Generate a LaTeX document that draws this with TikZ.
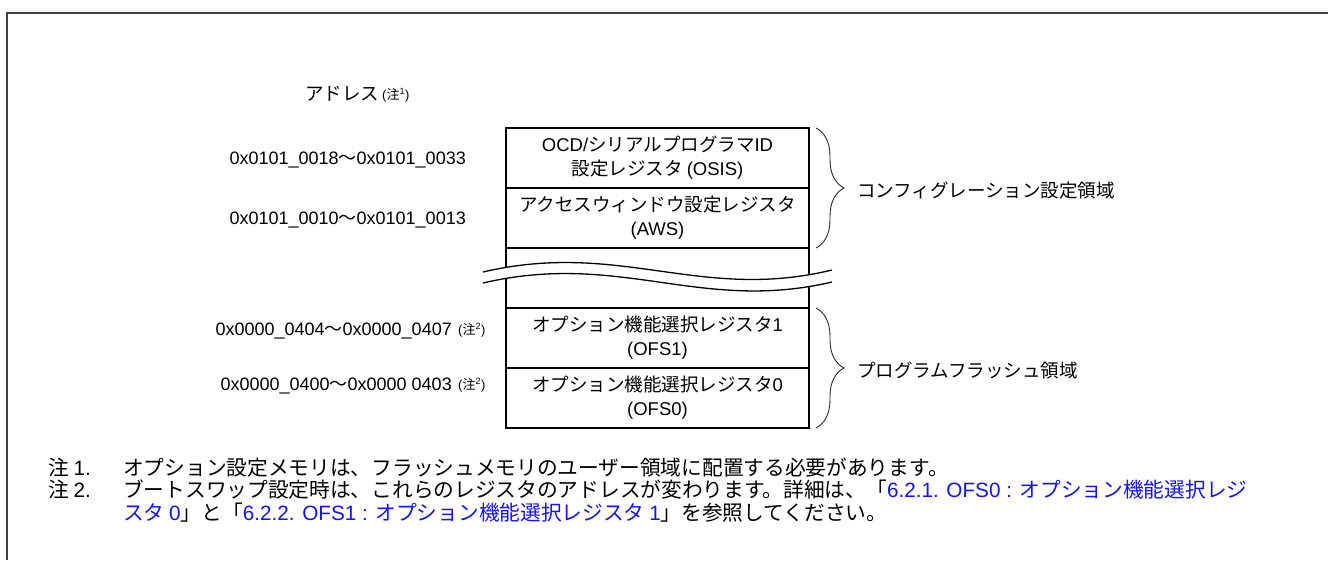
\documentclass[tikz,border=0pt]{standalone}
\usepackage{fontspec}
\setmainfont{Noto Sans CJK JP}
\newfontfamily\lat{Liberation Sans}
\usetikzlibrary{decorations.pathreplacing}
\definecolor{linkblue}{RGB}{20,20,235}
\begin{document}
\begin{tikzpicture}[x=1pt,y=-1pt,
  box/.style={draw=black, line width=1.6pt, minimum width=303pt, minimum height=60pt, inner sep=0pt, outer sep=0pt, align=center, font=\fontsize{18.5}{24}\selectfont},
  lbl/.style={inner sep=0pt, font=\fontsize{18.5}{22}\selectfont},
  adr/.style={inner sep=0pt, font=\fontsize{18}{22}\selectfont},
  supl/.style={inner sep=0pt, font=\fontsize{13}{15}\selectfont},
  note/.style={inner sep=0pt, font=\fontsize{20.7}{24}\selectfont},
  brc/.style={decorate, decoration={brace, amplitude=28pt}, line width=0.9pt, draw=black!85},
  wave/.style={line width=1.3pt}]
\useasboundingbox (0,0) rectangle (1328,560);
\draw[line width=1.5pt, black!75] (7,560) -- (7,13) -- (1328,13);

% header
\node[lbl, anchor=base west] (hdr) at (305,100) {アドレス};
\node[supl, anchor=base west] (hdrn) at (382,99) {{\lat (}注\textsuperscript{\lat 1}{\lat )}};

% memory rows
\node[box] (osis) at (657.5,158) {{\lat OCD/}シリアルプログラマ{\lat ID}\\設定レジスタ {\lat (OSIS)}};
\node[box] (aws) at (657.5,218) {アクセスウィンドウ設定レジスタ\\{\lat (AWS)}};
\node[box] (gap) at (657.5,278) {};
\node[box] (ofs1) at (657.5,338) {オプション機能選択レジスタ{\lat 1}\\{\lat (OFS1)}};
\node[box] (ofs0) at (657.5,398) {オプション機能選択レジスタ{\lat 0}\\{\lat (OFS0)}};

% break mark
\fill[white] (483,272) .. controls (620,240) and (700,302) .. (832,270) -- (832,282) .. controls (700,313) and (620,251) .. (483,283) -- cycle;
\draw[wave] (483,272) .. controls (620,240) and (700,302) .. (832,270);
\draw[wave] (483,283) .. controls (620,251) and (700,313) .. (832,282);

% addresses
\node[adr, anchor=base east] (a1) at (466,164) {{\lat 0x0101\_0018}～{\lat 0x0101\_0033}};
\node[adr, anchor=base east] (a2) at (466,224) {{\lat 0x0101\_0010}～{\lat 0x0101\_0013}};
\node[adr, anchor=base east] (a3) at (452,335) {{\lat 0x0000\_0404}～{\lat 0x0000\_0407}};
\node[supl, anchor=base west] (a3n) at (458,334) {{\lat (}注\textsuperscript{\lat 2}{\lat )}};
\node[adr, anchor=base east] (a4) at (452,390) {{\lat 0x0000\_0400}～{\lat 0x0000 0403}};
\node[supl, anchor=base west] (a4n) at (458,389) {{\lat (}注\textsuperscript{\lat 2}{\lat )}};

% braces
\draw[brc] ([xshift=7pt]osis.north east) -- ([xshift=7pt]aws.south east);
\draw[brc] ([xshift=7pt]ofs1.north east) -- ([xshift=7pt]ofs0.south east);
\node[lbl, anchor=base west] (cfg) at (857,197) {コンフィグレーション設定領域};
\node[lbl, anchor=base west] (pfl) at (857,377) {プログラムフラッシュ領域};

% notes
\node[note, anchor=base west] (n1l) at (48,475) {注 {\lat 1.}};
\node[note, anchor=base west] (n1) at (123,475) {オプション設定メモリは、フラッシュメモリのユーザー領域に配置する必要があります。};
\node[note, anchor=base west] (n2l) at (48,497) {注 {\lat 2.}};
\node[note, anchor=base west] (n2) at (123,497) {ブートスワップ設定時は、これらのレジスタのアドレスが変わります。詳細は、「\textcolor{linkblue}{{\lat 6.2.1. OFS0 : }オプション機能選択レジ}};
\node[note, anchor=base west] (n3) at (123,520) {\textcolor{linkblue}{スタ {\lat 0}}」と「\textcolor{linkblue}{{\lat 6.2.2. OFS1 : }オプション機能選択レジスタ {\lat 1}}」を参照してください。};
\end{tikzpicture}
\end{document}
